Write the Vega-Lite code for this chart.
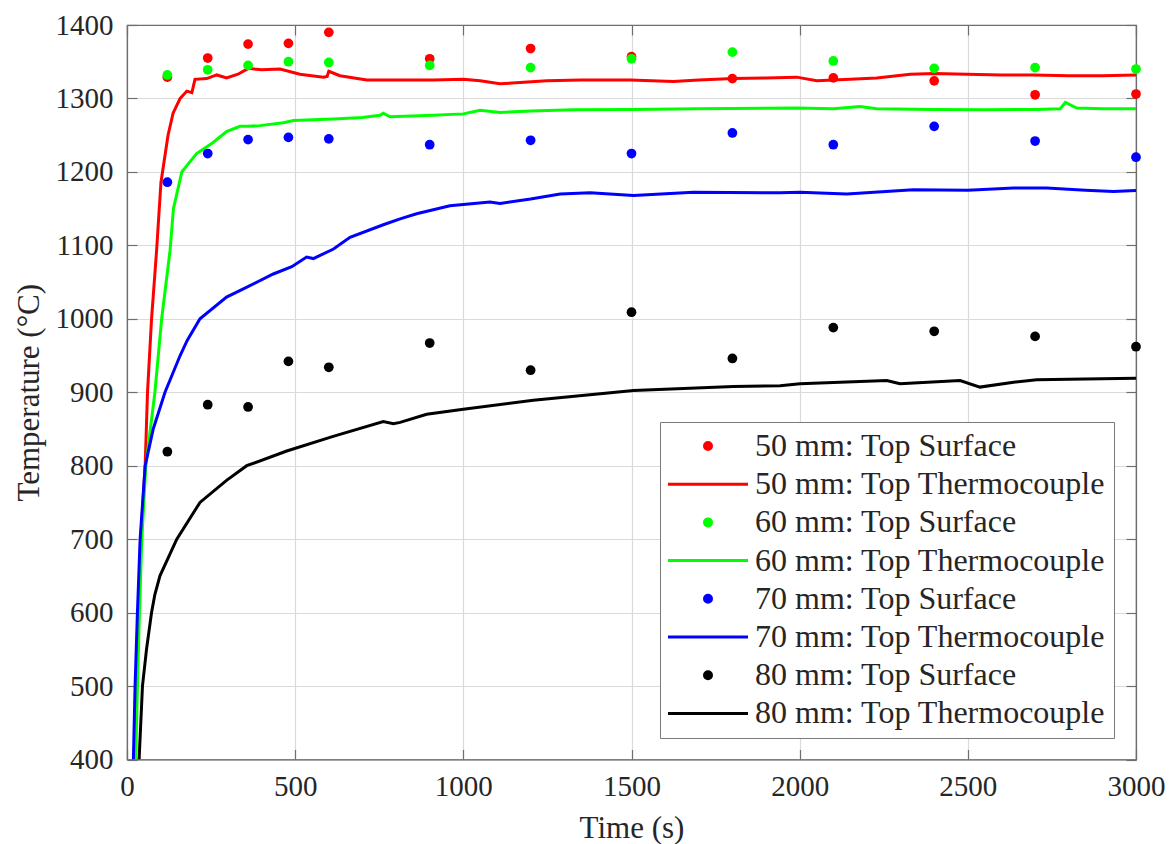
{
  "$schema": "https://vega.github.io/schema/vega-lite/v6.json",
  "width": 1009,
  "height": 734.5,
  "autosize": {"type": "none"},
  "padding": {"left": 127, "top": 25, "right": 40, "bottom": 85},
  "background": "white",
  "config": {
    "font": "Liberation Serif",
    "view": {"stroke": "#6e6e6e", "strokeWidth": 1.2},
    "axis": {
      "domainColor": "#6e6e6e",
      "domainWidth": 1.2,
      "tickColor": "#6e6e6e",
      "tickWidth": 1.2,
      "tickSize": -10,
      "gridColor": "#dadada",
      "gridWidth": 1.2,
      "labelFlush": false,
      "labelFont": "Liberation Serif",
      "labelFontSize": 29,
      "labelColor": "#262626",
      "titleFont": "Liberation Serif",
      "titleFontSize": 31,
      "titleFontWeight": "normal",
      "titleColor": "#262626"
    }
  },
  "datasets": {
    "surface": [
      {"t": 120, "temp": 1329, "series": "50 mm: Top Surface"},
      {"t": 240, "temp": 1355, "series": "50 mm: Top Surface"},
      {"t": 360, "temp": 1374, "series": "50 mm: Top Surface"},
      {"t": 480, "temp": 1375, "series": "50 mm: Top Surface"},
      {"t": 600, "temp": 1390, "series": "50 mm: Top Surface"},
      {"t": 900, "temp": 1354, "series": "50 mm: Top Surface"},
      {"t": 1200, "temp": 1368, "series": "50 mm: Top Surface"},
      {"t": 1500, "temp": 1357, "series": "50 mm: Top Surface"},
      {"t": 1800, "temp": 1327, "series": "50 mm: Top Surface"},
      {"t": 2100, "temp": 1328, "series": "50 mm: Top Surface"},
      {"t": 2400, "temp": 1324, "series": "50 mm: Top Surface"},
      {"t": 2700, "temp": 1305, "series": "50 mm: Top Surface"},
      {"t": 3000, "temp": 1306, "series": "50 mm: Top Surface"},
      {"t": 120, "temp": 1332, "series": "60 mm: Top Surface"},
      {"t": 240, "temp": 1339, "series": "60 mm: Top Surface"},
      {"t": 360, "temp": 1345, "series": "60 mm: Top Surface"},
      {"t": 480, "temp": 1350, "series": "60 mm: Top Surface"},
      {"t": 600, "temp": 1349, "series": "60 mm: Top Surface"},
      {"t": 900, "temp": 1345, "series": "60 mm: Top Surface"},
      {"t": 1200, "temp": 1342, "series": "60 mm: Top Surface"},
      {"t": 1500, "temp": 1354, "series": "60 mm: Top Surface"},
      {"t": 1800, "temp": 1363, "series": "60 mm: Top Surface"},
      {"t": 2100, "temp": 1351, "series": "60 mm: Top Surface"},
      {"t": 2400, "temp": 1341, "series": "60 mm: Top Surface"},
      {"t": 2700, "temp": 1342, "series": "60 mm: Top Surface"},
      {"t": 3000, "temp": 1340, "series": "60 mm: Top Surface"},
      {"t": 120, "temp": 1186, "series": "70 mm: Top Surface"},
      {"t": 240, "temp": 1225, "series": "70 mm: Top Surface"},
      {"t": 360, "temp": 1244, "series": "70 mm: Top Surface"},
      {"t": 480, "temp": 1247, "series": "70 mm: Top Surface"},
      {"t": 600, "temp": 1245, "series": "70 mm: Top Surface"},
      {"t": 900, "temp": 1237, "series": "70 mm: Top Surface"},
      {"t": 1200, "temp": 1243, "series": "70 mm: Top Surface"},
      {"t": 1500, "temp": 1225, "series": "70 mm: Top Surface"},
      {"t": 1800, "temp": 1253, "series": "70 mm: Top Surface"},
      {"t": 2100, "temp": 1237, "series": "70 mm: Top Surface"},
      {"t": 2400, "temp": 1262, "series": "70 mm: Top Surface"},
      {"t": 2700, "temp": 1242, "series": "70 mm: Top Surface"},
      {"t": 3000, "temp": 1220, "series": "70 mm: Top Surface"},
      {"t": 120, "temp": 819, "series": "80 mm: Top Surface"},
      {"t": 240, "temp": 883, "series": "80 mm: Top Surface"},
      {"t": 360, "temp": 880, "series": "80 mm: Top Surface"},
      {"t": 480, "temp": 942, "series": "80 mm: Top Surface"},
      {"t": 600, "temp": 934, "series": "80 mm: Top Surface"},
      {"t": 900, "temp": 967, "series": "80 mm: Top Surface"},
      {"t": 1200, "temp": 930, "series": "80 mm: Top Surface"},
      {"t": 1500, "temp": 1009, "series": "80 mm: Top Surface"},
      {"t": 1800, "temp": 946, "series": "80 mm: Top Surface"},
      {"t": 2100, "temp": 988, "series": "80 mm: Top Surface"},
      {"t": 2400, "temp": 983, "series": "80 mm: Top Surface"},
      {"t": 2700, "temp": 976, "series": "80 mm: Top Surface"},
      {"t": 3000, "temp": 962, "series": "80 mm: Top Surface"}
    ],
    "thermo": [
      {"t": 21, "temp": 400, "series": "50 mm: Top Thermocouple"},
      {"t": 27, "temp": 500, "series": "50 mm: Top Thermocouple"},
      {"t": 34, "temp": 600, "series": "50 mm: Top Thermocouple"},
      {"t": 41, "temp": 700, "series": "50 mm: Top Thermocouple"},
      {"t": 54, "temp": 800, "series": "50 mm: Top Thermocouple"},
      {"t": 61, "temp": 900, "series": "50 mm: Top Thermocouple"},
      {"t": 73, "temp": 1000, "series": "50 mm: Top Thermocouple"},
      {"t": 88, "temp": 1093, "series": "50 mm: Top Thermocouple"},
      {"t": 101, "temp": 1186, "series": "50 mm: Top Thermocouple"},
      {"t": 122, "temp": 1250, "series": "50 mm: Top Thermocouple"},
      {"t": 137, "temp": 1280, "series": "50 mm: Top Thermocouple"},
      {"t": 158, "temp": 1300, "series": "50 mm: Top Thermocouple"},
      {"t": 178, "temp": 1310, "series": "50 mm: Top Thermocouple"},
      {"t": 193, "temp": 1308, "series": "50 mm: Top Thermocouple"},
      {"t": 202, "temp": 1326, "series": "50 mm: Top Thermocouple"},
      {"t": 237, "temp": 1327, "series": "50 mm: Top Thermocouple"},
      {"t": 267, "temp": 1332, "series": "50 mm: Top Thermocouple"},
      {"t": 296, "temp": 1328, "series": "50 mm: Top Thermocouple"},
      {"t": 330, "temp": 1333, "series": "50 mm: Top Thermocouple"},
      {"t": 361, "temp": 1341, "series": "50 mm: Top Thermocouple"},
      {"t": 400, "temp": 1339, "series": "50 mm: Top Thermocouple"},
      {"t": 455, "temp": 1340, "series": "50 mm: Top Thermocouple"},
      {"t": 514, "temp": 1333, "series": "50 mm: Top Thermocouple"},
      {"t": 584, "temp": 1329, "series": "50 mm: Top Thermocouple"},
      {"t": 595, "temp": 1330, "series": "50 mm: Top Thermocouple"},
      {"t": 600, "temp": 1337, "series": "50 mm: Top Thermocouple"},
      {"t": 633, "temp": 1331, "series": "50 mm: Top Thermocouple"},
      {"t": 713, "temp": 1325, "series": "50 mm: Top Thermocouple"},
      {"t": 800, "temp": 1325, "series": "50 mm: Top Thermocouple"},
      {"t": 911, "temp": 1325, "series": "50 mm: Top Thermocouple"},
      {"t": 1000, "temp": 1326, "series": "50 mm: Top Thermocouple"},
      {"t": 1050, "temp": 1324, "series": "50 mm: Top Thermocouple"},
      {"t": 1109, "temp": 1320, "series": "50 mm: Top Thermocouple"},
      {"t": 1180, "temp": 1322, "series": "50 mm: Top Thermocouple"},
      {"t": 1248, "temp": 1324, "series": "50 mm: Top Thermocouple"},
      {"t": 1350, "temp": 1325, "series": "50 mm: Top Thermocouple"},
      {"t": 1496, "temp": 1325, "series": "50 mm: Top Thermocouple"},
      {"t": 1624, "temp": 1323, "series": "50 mm: Top Thermocouple"},
      {"t": 1700, "temp": 1325, "series": "50 mm: Top Thermocouple"},
      {"t": 1803, "temp": 1327, "series": "50 mm: Top Thermocouple"},
      {"t": 1900, "temp": 1328, "series": "50 mm: Top Thermocouple"},
      {"t": 1991, "temp": 1329, "series": "50 mm: Top Thermocouple"},
      {"t": 2051, "temp": 1324, "series": "50 mm: Top Thermocouple"},
      {"t": 2150, "temp": 1326, "series": "50 mm: Top Thermocouple"},
      {"t": 2229, "temp": 1328, "series": "50 mm: Top Thermocouple"},
      {"t": 2329, "temp": 1333, "series": "50 mm: Top Thermocouple"},
      {"t": 2400, "temp": 1334, "series": "50 mm: Top Thermocouple"},
      {"t": 2497, "temp": 1333, "series": "50 mm: Top Thermocouple"},
      {"t": 2600, "temp": 1332, "series": "50 mm: Top Thermocouple"},
      {"t": 2695, "temp": 1332, "series": "50 mm: Top Thermocouple"},
      {"t": 2800, "temp": 1331, "series": "50 mm: Top Thermocouple"},
      {"t": 2900, "temp": 1331, "series": "50 mm: Top Thermocouple"},
      {"t": 3000, "temp": 1332, "series": "50 mm: Top Thermocouple"},

      {"t": 26, "temp": 400, "series": "60 mm: Top Thermocouple"},
      {"t": 31, "temp": 500, "series": "60 mm: Top Thermocouple"},
      {"t": 37, "temp": 600, "series": "60 mm: Top Thermocouple"},
      {"t": 44, "temp": 700, "series": "60 mm: Top Thermocouple"},
      {"t": 56, "temp": 800, "series": "60 mm: Top Thermocouple"},
      {"t": 83, "temp": 900, "series": "60 mm: Top Thermocouple"},
      {"t": 103, "temp": 1000, "series": "60 mm: Top Thermocouple"},
      {"t": 128, "temp": 1093, "series": "60 mm: Top Thermocouple"},
      {"t": 138, "temp": 1150, "series": "60 mm: Top Thermocouple"},
      {"t": 163, "temp": 1200, "series": "60 mm: Top Thermocouple"},
      {"t": 207, "temp": 1225, "series": "60 mm: Top Thermocouple"},
      {"t": 256, "temp": 1240, "series": "60 mm: Top Thermocouple"},
      {"t": 296, "temp": 1255, "series": "60 mm: Top Thermocouple"},
      {"t": 336, "temp": 1262, "series": "60 mm: Top Thermocouple"},
      {"t": 361, "temp": 1262, "series": "60 mm: Top Thermocouple"},
      {"t": 395, "temp": 1263, "series": "60 mm: Top Thermocouple"},
      {"t": 465, "temp": 1267, "series": "60 mm: Top Thermocouple"},
      {"t": 495, "temp": 1270, "series": "60 mm: Top Thermocouple"},
      {"t": 614, "temp": 1272, "series": "60 mm: Top Thermocouple"},
      {"t": 700, "temp": 1274, "series": "60 mm: Top Thermocouple"},
      {"t": 752, "temp": 1277, "series": "60 mm: Top Thermocouple"},
      {"t": 762, "temp": 1280, "series": "60 mm: Top Thermocouple"},
      {"t": 782, "temp": 1275, "series": "60 mm: Top Thermocouple"},
      {"t": 911, "temp": 1277, "series": "60 mm: Top Thermocouple"},
      {"t": 1000, "temp": 1279, "series": "60 mm: Top Thermocouple"},
      {"t": 1050, "temp": 1284, "series": "60 mm: Top Thermocouple"},
      {"t": 1109, "temp": 1281, "series": "60 mm: Top Thermocouple"},
      {"t": 1200, "temp": 1283, "series": "60 mm: Top Thermocouple"},
      {"t": 1327, "temp": 1284.5, "series": "60 mm: Top Thermocouple"},
      {"t": 1500, "temp": 1285, "series": "60 mm: Top Thermocouple"},
      {"t": 1694, "temp": 1286, "series": "60 mm: Top Thermocouple"},
      {"t": 1991, "temp": 1287, "series": "60 mm: Top Thermocouple"},
      {"t": 2100, "temp": 1286, "series": "60 mm: Top Thermocouple"},
      {"t": 2179, "temp": 1289, "series": "60 mm: Top Thermocouple"},
      {"t": 2229, "temp": 1286, "series": "60 mm: Top Thermocouple"},
      {"t": 2400, "temp": 1285, "series": "60 mm: Top Thermocouple"},
      {"t": 2546, "temp": 1284.5, "series": "60 mm: Top Thermocouple"},
      {"t": 2700, "temp": 1285, "series": "60 mm: Top Thermocouple"},
      {"t": 2775, "temp": 1286, "series": "60 mm: Top Thermocouple"},
      {"t": 2790, "temp": 1294.5, "series": "60 mm: Top Thermocouple"},
      {"t": 2824, "temp": 1287, "series": "60 mm: Top Thermocouple"},
      {"t": 2900, "temp": 1286, "series": "60 mm: Top Thermocouple"},
      {"t": 3000, "temp": 1286, "series": "60 mm: Top Thermocouple"},

      {"t": 19, "temp": 400, "series": "70 mm: Top Thermocouple"},
      {"t": 24, "temp": 500, "series": "70 mm: Top Thermocouple"},
      {"t": 31, "temp": 600, "series": "70 mm: Top Thermocouple"},
      {"t": 39, "temp": 700, "series": "70 mm: Top Thermocouple"},
      {"t": 54, "temp": 800, "series": "70 mm: Top Thermocouple"},
      {"t": 78, "temp": 850, "series": "70 mm: Top Thermocouple"},
      {"t": 113, "temp": 900, "series": "70 mm: Top Thermocouple"},
      {"t": 158, "temp": 950, "series": "70 mm: Top Thermocouple"},
      {"t": 179, "temp": 970.5, "series": "70 mm: Top Thermocouple"},
      {"t": 217, "temp": 1000, "series": "70 mm: Top Thermocouple"},
      {"t": 296, "temp": 1029.6, "series": "70 mm: Top Thermocouple"},
      {"t": 346, "temp": 1040.7, "series": "70 mm: Top Thermocouple"},
      {"t": 435, "temp": 1061, "series": "70 mm: Top Thermocouple"},
      {"t": 490, "temp": 1071, "series": "70 mm: Top Thermocouple"},
      {"t": 534, "temp": 1084, "series": "70 mm: Top Thermocouple"},
      {"t": 554, "temp": 1082, "series": "70 mm: Top Thermocouple"},
      {"t": 614, "temp": 1095, "series": "70 mm: Top Thermocouple"},
      {"t": 663, "temp": 1111, "series": "70 mm: Top Thermocouple"},
      {"t": 762, "temp": 1128, "series": "70 mm: Top Thermocouple"},
      {"t": 812, "temp": 1136, "series": "70 mm: Top Thermocouple"},
      {"t": 861, "temp": 1143, "series": "70 mm: Top Thermocouple"},
      {"t": 960, "temp": 1154, "series": "70 mm: Top Thermocouple"},
      {"t": 1079, "temp": 1159, "series": "70 mm: Top Thermocouple"},
      {"t": 1109, "temp": 1157, "series": "70 mm: Top Thermocouple"},
      {"t": 1200, "temp": 1163, "series": "70 mm: Top Thermocouple"},
      {"t": 1288, "temp": 1170, "series": "70 mm: Top Thermocouple"},
      {"t": 1377, "temp": 1171.5, "series": "70 mm: Top Thermocouple"},
      {"t": 1506, "temp": 1168, "series": "70 mm: Top Thermocouple"},
      {"t": 1684, "temp": 1172.4, "series": "70 mm: Top Thermocouple"},
      {"t": 1942, "temp": 1171.5, "series": "70 mm: Top Thermocouple"},
      {"t": 2001, "temp": 1172.4, "series": "70 mm: Top Thermocouple"},
      {"t": 2140, "temp": 1170, "series": "70 mm: Top Thermocouple"},
      {"t": 2338, "temp": 1175.6, "series": "70 mm: Top Thermocouple"},
      {"t": 2500, "temp": 1175, "series": "70 mm: Top Thermocouple"},
      {"t": 2636, "temp": 1178, "series": "70 mm: Top Thermocouple"},
      {"t": 2735, "temp": 1178, "series": "70 mm: Top Thermocouple"},
      {"t": 2850, "temp": 1175, "series": "70 mm: Top Thermocouple"},
      {"t": 2933, "temp": 1173.3, "series": "70 mm: Top Thermocouple"},
      {"t": 3000, "temp": 1174.7, "series": "70 mm: Top Thermocouple"},

      {"t": 36, "temp": 400, "series": "80 mm: Top Thermocouple"},
      {"t": 46, "temp": 500, "series": "80 mm: Top Thermocouple"},
      {"t": 58, "temp": 550, "series": "80 mm: Top Thermocouple"},
      {"t": 73, "temp": 600, "series": "80 mm: Top Thermocouple"},
      {"t": 83, "temp": 625, "series": "80 mm: Top Thermocouple"},
      {"t": 98, "temp": 650, "series": "80 mm: Top Thermocouple"},
      {"t": 148, "temp": 700, "series": "80 mm: Top Thermocouple"},
      {"t": 217, "temp": 750, "series": "80 mm: Top Thermocouple"},
      {"t": 296, "temp": 780, "series": "80 mm: Top Thermocouple"},
      {"t": 356, "temp": 800, "series": "80 mm: Top Thermocouple"},
      {"t": 475, "temp": 820, "series": "80 mm: Top Thermocouple"},
      {"t": 613, "temp": 840, "series": "80 mm: Top Thermocouple"},
      {"t": 762, "temp": 860, "series": "80 mm: Top Thermocouple"},
      {"t": 792, "temp": 857, "series": "80 mm: Top Thermocouple"},
      {"t": 812, "temp": 859, "series": "80 mm: Top Thermocouple"},
      {"t": 891, "temp": 870, "series": "80 mm: Top Thermocouple"},
      {"t": 1000, "temp": 877, "series": "80 mm: Top Thermocouple"},
      {"t": 1208, "temp": 889, "series": "80 mm: Top Thermocouple"},
      {"t": 1407, "temp": 898, "series": "80 mm: Top Thermocouple"},
      {"t": 1506, "temp": 902.4, "series": "80 mm: Top Thermocouple"},
      {"t": 1803, "temp": 907.8, "series": "80 mm: Top Thermocouple"},
      {"t": 1942, "temp": 909, "series": "80 mm: Top Thermocouple"},
      {"t": 2001, "temp": 911.5, "series": "80 mm: Top Thermocouple"},
      {"t": 2259, "temp": 916, "series": "80 mm: Top Thermocouple"},
      {"t": 2298, "temp": 911.5, "series": "80 mm: Top Thermocouple"},
      {"t": 2477, "temp": 916, "series": "80 mm: Top Thermocouple"},
      {"t": 2536, "temp": 907, "series": "80 mm: Top Thermocouple"},
      {"t": 2636, "temp": 913.7, "series": "80 mm: Top Thermocouple"},
      {"t": 2705, "temp": 917, "series": "80 mm: Top Thermocouple"},
      {"t": 2850, "temp": 918, "series": "80 mm: Top Thermocouple"},
      {"t": 3000, "temp": 919, "series": "80 mm: Top Thermocouple"}
    ]
  },
  "resolve": {"axis": {"x": "independent", "y": "independent"}},
  "layer": [
    {
      "data": {"name": "thermo"},
      "mark": {"type": "line", "strokeWidth": 3, "clip": true},
      "encoding": {
        "x": {
          "field": "t", "type": "quantitative",
          "scale": {"domain": [0, 3000], "nice": false, "zero": false},
          "axis": {"orient": "bottom", "title": "Time (s)", "values": [0, 500, 1000, 1500, 2000, 2500, 3000], "labelPadding": 23, "titlePadding": 12, "format": "d", "grid": true}
        },
        "y": {
          "field": "temp", "type": "quantitative",
          "scale": {"domain": [400, 1400], "nice": false, "zero": false},
          "axis": {"orient": "left", "title": "Temperature (°C)", "values": [400, 500, 600, 700, 800, 900, 1000, 1100, 1200, 1300, 1400], "labelPadding": 24, "titlePadding": 10, "format": "d", "grid": true}
        },
        "color": {
          "field": "series", "type": "nominal",
          "scale": {
            "domain": ["50 mm: Top Surface", "50 mm: Top Thermocouple", "60 mm: Top Surface", "60 mm: Top Thermocouple", "70 mm: Top Surface", "70 mm: Top Thermocouple", "80 mm: Top Surface", "80 mm: Top Thermocouple"],
            "range": ["#ff0000", "#ff0000", "#00ff00", "#00ff00", "#0000ff", "#0000ff", "#000000", "#000000"]
          },
          "legend": {
            "orient": "bottom-right",
            "offset": 22,
            "title": null,
            "labelFont": "Liberation Serif",
            "labelFontSize": 32,
            "labelColor": "#262626",
            "labelLimit": 600,
            "symbolSize": 49,
            "symbolStrokeWidth": 3,
            "symbolOffset": 24,
            "labelOffset": 31,
            "rowPadding": 6.2,
            "padding": 8,
            "strokeColor": "#7a7a7a",
            "fillColor": "white",
            "cornerRadius": 0,
            "symbolOpacity": 1,
            "encode": {
              "symbols": {
                "update": {
                  "shape": {"signal": "indexof(datum.value, 'Surface') >= 0 ? 'circle' : 'M-11.43,0L11.43,0'"},
                  "fill": {"signal": "indexof(datum.value, 'Surface') >= 0 ? scale('color', datum.value) : 'transparent'"},
                  "stroke": {"scale": "color", "field": "value"},
                  "opacity": {"value": 1}
                }
              }
            }
          }
        }
      }
    },
    {
      "data": {"name": "surface"},
      "mark": {"type": "circle", "size": 95, "opacity": 1, "clip": false},
      "encoding": {
        "x": {
          "field": "t", "type": "quantitative",
          "scale": {"domain": [0, 3000], "nice": false, "zero": false},
          "axis": {"orient": "top", "title": null, "labels": false, "grid": false, "values": [0, 500, 1000, 1500, 2000, 2500, 3000]}
        },
        "y": {
          "field": "temp", "type": "quantitative",
          "scale": {"domain": [400, 1400], "nice": false, "zero": false},
          "axis": {"orient": "right", "title": null, "labels": false, "grid": false, "values": [400, 500, 600, 700, 800, 900, 1000, 1100, 1200, 1300, 1400]}
        },
        "color": {"field": "series", "type": "nominal"}
      }
    }
  ]
}
